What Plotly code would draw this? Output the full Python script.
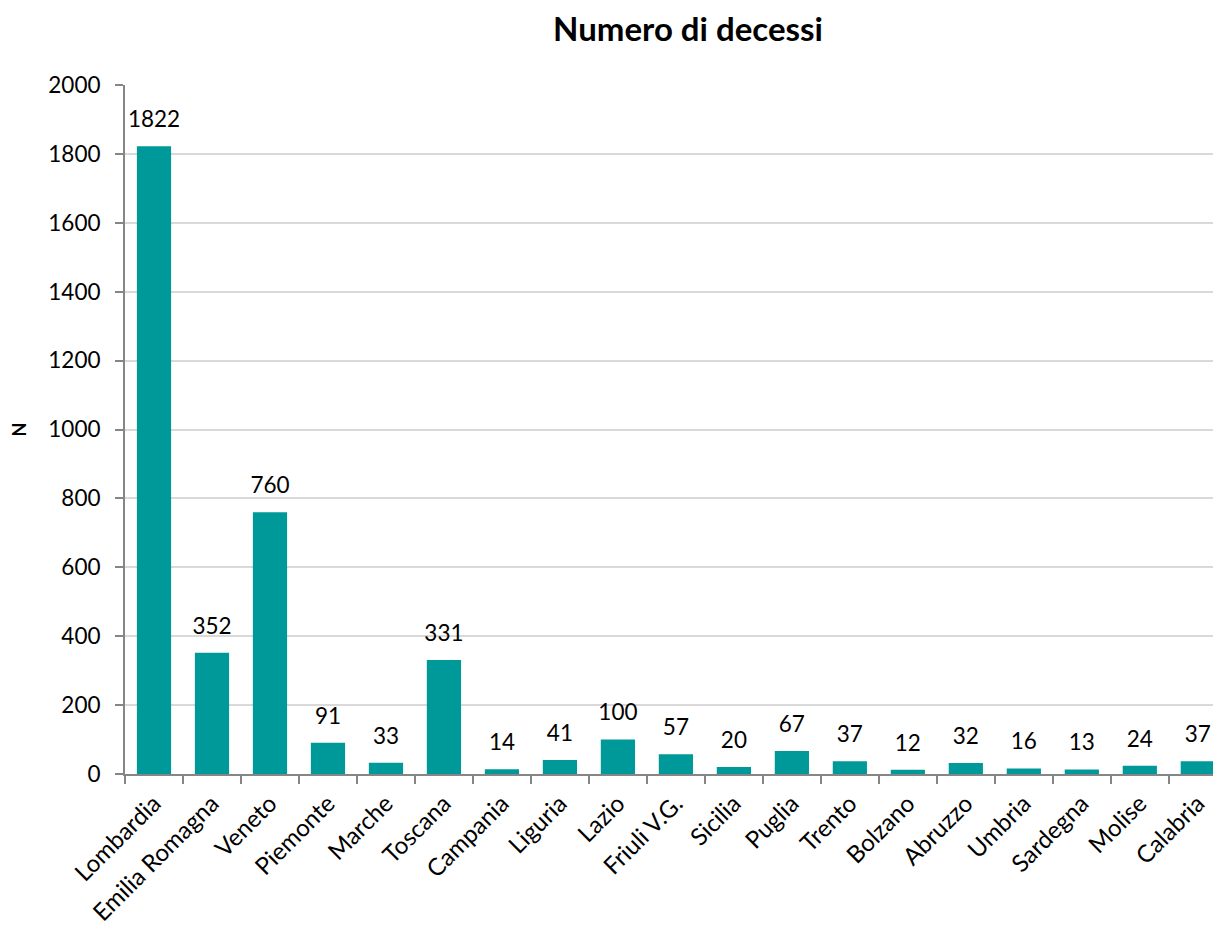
import plotly.graph_objects as go

regions = ["Lombardia", "Emilia Romagna", "Veneto", "Piemonte", "Marche", "Toscana",
           "Campania", "Liguria", "Lazio", "Friuli V.G.", "Sicilia", "Puglia", "Trento",
           "Bolzano", "Abruzzo", "Umbria", "Sardegna", "Molise", "Calabria"]
deaths = [1822, 352, 760, 91, 33, 331, 14, 41, 100, 57, 20, 67, 37, 12, 32, 16, 13, 24, 37]
y_ticks = [0, 200, 400, 600, 800, 1000, 1200, 1400, 1600, 1800, 2000]

FONT = "Lato"

fig = go.Figure()
fig.add_trace(go.Bar(
    x=regions, y=deaths,
    marker=dict(color="#009999", line=dict(width=0)),
    width=0.59,
    hoverinfo="x+y",
))
fig.add_trace(go.Scatter(
    x=regions, y=deaths,
    mode="markers+text",
    marker=dict(size=20, color="rgba(0,0,0,0)"),
    text=[str(v) for v in deaths],
    textposition="top center",
    textfont=dict(family=FONT, size=22.5, color="#000000"),
    cliponaxis=False,
    hoverinfo="skip",
))

fig.update_layout(
    width=1213, height=919,
    paper_bgcolor="white", plot_bgcolor="white",
    margin=dict(l=117, r=0, t=77, b=153),
    font=dict(family=FONT, color="#000000"),
    title=dict(text="<b>Numero di decessi</b>", x=0.5606, xanchor="center",
               y=0.9765, yanchor="middle", font=dict(family=FONT, size=33, color="#000000")),
    showlegend=False,
)

fig.update_xaxes(
    type="category", range=[-0.5, 18.4],
    tickangle=-45, tickfont=dict(family=FONT, size=24, color="#000000"),
    showline=True, linecolor="#868686", linewidth=2,
    ticks="outside", tickson="boundaries", ticklen=8, tickcolor="#868686", tickwidth=2,
    ticklabelstandoff=4,
    showgrid=False, automargin=False,
)

fig.update_yaxes(
    range=[0, 2000], tickvals=y_ticks, ticktext=[str(v) for v in y_ticks],
    tickfont=dict(family=FONT, size=22.5, color="#000000"),
    showline=True, linecolor="#868686", linewidth=2,
    ticks="outside", ticklen=8, tickcolor="#868686", tickwidth=2,
    ticklabelstandoff=10,
    showgrid=True, gridcolor="#D9D9D9", gridwidth=1.5,
    zeroline=False, automargin=False,
    title=dict(text="<b>N</b>", font=dict(family=FONT, size=18, color="#000000"), standoff=40),
)

fig.write_html("out.html")
